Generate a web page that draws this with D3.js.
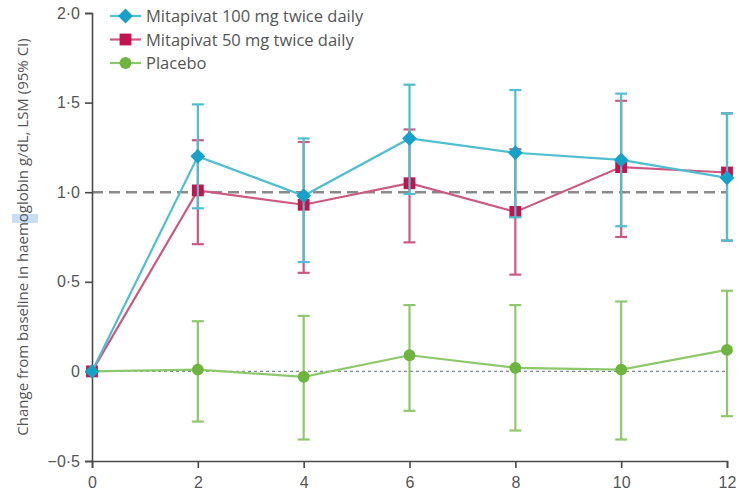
<!DOCTYPE html>
<html>
<head>
<meta charset="utf-8">
<script src="https://cdn.jsdelivr.net/npm/d3@7"></script>
<style>
  body { margin: 0; background: #fff; }
  svg { display: block; font-family: "Open Sans", "Noto Sans", sans-serif; }
</style>
</head>
<body>
<svg id="chart" width="742" height="502"></svg>
<script>
// weeks on the x axis
const weeks = [0, 2, 4, 6, 8, 10, 12];
const xTicks = [0, 2, 4, 6, 8, 10, 12];
const yTicks = [-0.5, 0, 0.5, 1.0, 1.5, 2.0];

const seriesNames = ['Mitapivat 100 mg twice daily', 'Mitapivat 50 mg twice daily', 'Placebo'];

// least-squares means and 95% CI
const mg100 = [0, 1.20, 0.98, 1.30, 1.22, 1.18, 1.08];
const mg100Lo = [null, 0.91, 0.61, 0.99, 0.86, 0.81, 0.73];
const mg100Hi = [null, 1.49, 1.30, 1.60, 1.57, 1.55, 1.44];

const mg50 = [0, 1.01, 0.93, 1.05, 0.89, 1.14, 1.11];
const mg50Lo = [null, 0.71, 0.55, 0.72, 0.54, 0.75, 0.73];
const mg50Hi = [null, 1.29, 1.28, 1.35, 1.24, 1.51, 1.44];

const placebo = [0, 0.01, -0.03, 0.09, 0.02, 0.01, 0.12];
const placeboLo = [null, -0.28, -0.38, -0.22, -0.33, -0.38, -0.25];
const placeboHi = [null, 0.28, 0.31, 0.37, 0.37, 0.39, 0.45];

const width = 742, height = 502;
const margin = { top: 13, right: 15, bottom: 41, left: 92 };

const svg = d3.select('#chart');

const x = d3.scaleLinear().domain([0, 12]).range([margin.left, width - margin.right]);
const y = d3.scaleLinear().domain([-0.5, 2.0]).range([height - margin.bottom, margin.top]);

const fmt = v => (v === 0 ? '0' : d3.format('.1f')(v).replace('.', '·').replace('-', '−'));

// reference lines
svg.append('line')
    .attr('x1', x(0)).attr('x2', x(12))
    .attr('y1', y(1)).attr('y2', y(1))
    .attr('stroke', '#8a8a8a').attr('stroke-width', 2.5)
    .attr('stroke-dasharray', '11,6');

svg.append('line')
    .attr('x1', x(0)).attr('x2', x(12))
    .attr('y1', y(0)).attr('y2', y(0))
    .attr('stroke', '#7d8a9a').attr('stroke-width', 1.2)
    .attr('stroke-dasharray', '3,3');

// axes
const yAxis = svg.append('g')
    .attr('transform', `translate(${margin.left},0)`)
    .call(d3.axisLeft(y).tickValues(yTicks).tickFormat(fmt).tickSize(7).tickPadding(5));

const xAxis = svg.append('g')
    .attr('transform', `translate(0,${height - margin.bottom})`)
    .call(d3.axisBottom(x).tickValues(xTicks).tickFormat(d3.format('d')).tickSize(7).tickPadding(9));

[yAxis, xAxis].forEach(ax => {
    ax.select('.domain').attr('stroke', '#4a4a4a').attr('stroke-width', 1.6);
    ax.selectAll('.tick line').attr('stroke', '#4a4a4a').attr('stroke-width', 1.6);
    ax.selectAll('.tick text').attr('fill', '#555').style('font-size', '16px');
});

// little selection highlight in the label, as in the source image
svg.append('rect')
    .attr('x', 12).attr('y', 214).attr('width', 26).attr('height', 9)
    .attr('fill', '#bcd5f0').attr('opacity', 0.8);

svg.append('text')
    .attr('transform', `translate(28,${(y(-0.5) + y(2.0)) / 2}) rotate(-90)`)
    .attr('text-anchor', 'middle')
    .attr('fill', '#555')
    .style('font-size', '15px')
    .text('Change from baseline in haemoglobin g/dL, LSM (95% CI)');

const series = [
    { name: seriesNames[2], mean: placebo, lo: placeboLo, hi: placeboHi, line: '#8fc76c', mark: '#6db53f', shape: 'circle' },
    { name: seriesNames[1], mean: mg50, lo: mg50Lo, hi: mg50Hi, line: '#cc5a80', mark: '#c2144f', shape: 'square' },
    { name: seriesNames[0], mean: mg100, lo: mg100Lo, hi: mg100Hi, line: '#4fbfd0', mark: '#16a2c8', shape: 'diamond' }
];

const symbolFor = s => {
    if (s === 'circle') return d3.symbol(d3.symbolCircle, 110);
    if (s === 'square') return d3.symbol(d3.symbolSquare, 140);
    return d3.symbol(d3.symbolDiamond2, 140);
};

const line = d3.line().x((d, i) => x(weeks[i])).y(d => y(d));

series.forEach(s => {
    const g = svg.append('g');
    const bars = weeks.map((w, i) => ({ w, lo: s.lo[i], hi: s.hi[i] })).filter(d => d.lo != null);

    g.selectAll('.bar').data(bars).enter().append('line')
        .attr('x1', d => x(d.w)).attr('x2', d => x(d.w))
        .attr('y1', d => y(d.lo)).attr('y2', d => y(d.hi))
        .attr('stroke', s.line).attr('stroke-width', 2.2);

    ['lo', 'hi'].forEach(k => {
        g.selectAll('.cap' + k).data(bars).enter().append('line')
            .attr('x1', d => x(d.w) - 6).attr('x2', d => x(d.w) + 6)
            .attr('y1', d => y(d[k])).attr('y2', d => y(d[k]))
            .attr('stroke', s.line).attr('stroke-width', 2.2);
    });

    g.append('path')
        .attr('d', line(s.mean))
        .attr('fill', 'none')
        .attr('stroke', s.line).attr('stroke-width', 2.2);

    g.selectAll('.pt').data(s.mean).enter().append('path')
        .attr('transform', (d, i) => `translate(${x(weeks[i])},${y(d)})`)
        .attr('d', symbolFor(s.shape))
        .attr('fill', s.mark);
});

// legend
const legend = svg.append('g');
const legendOrder = [series[2], series[1], series[0]];
legendOrder.forEach((s, i) => {
    const ly = 16 + i * 23.5;
    legend.append('line')
        .attr('x1', 110).attr('x2', 141).attr('y1', ly).attr('y2', ly)
        .attr('stroke', s.line).attr('stroke-width', 2.2);
    legend.append('path')
        .attr('transform', `translate(125.5,${ly})`)
        .attr('d', symbolFor(s.shape))
        .attr('fill', s.mark);
    legend.append('text')
        .attr('x', 146).attr('y', ly + 6)
        .attr('fill', '#555')
        .style('font-size', '16.5px')
        .text(s.name);
});
</script>
</body>
</html>
